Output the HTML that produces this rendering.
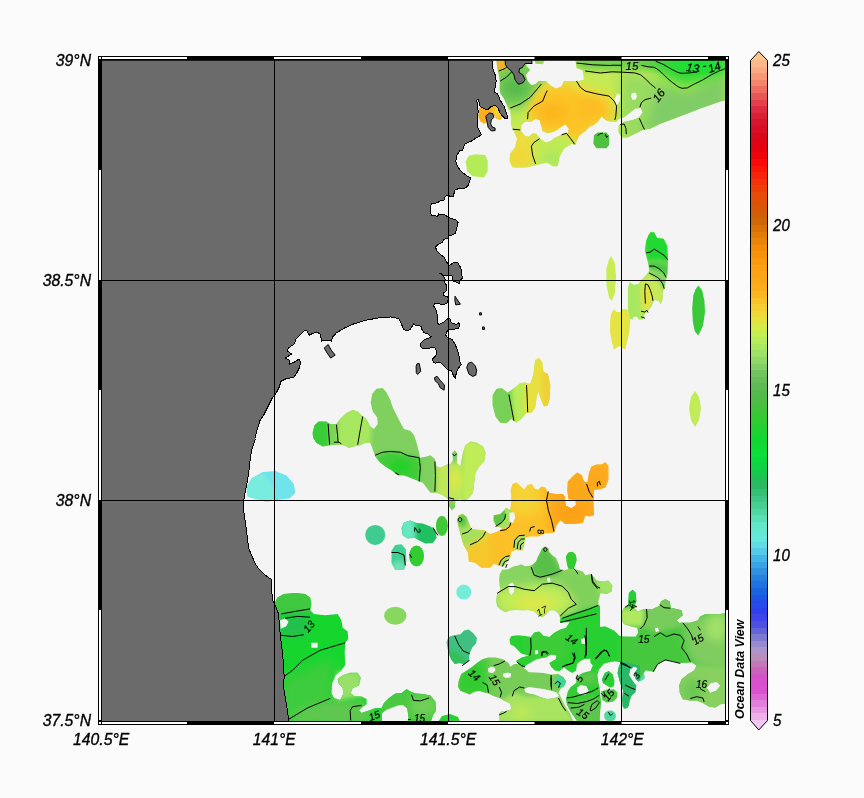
<!DOCTYPE html>
<html lang="en"><head><meta charset="utf-8"><title>Ocean Data View map</title>
<style>html,body{margin:0;padding:0;background:#fbfbfb}body{width:864px;height:798px;overflow:hidden}</style></head>
<body>
<svg width="864" height="798" viewBox="0 0 864 798" style="display:block">
<defs><clipPath id="mapclip"><rect x="100" y="58" width="627" height="665"/></clipPath><filter id="b2" x="-30%" y="-30%" width="160%" height="160%"><feGaussianBlur stdDeviation="2"/></filter><filter id="b4" x="-30%" y="-30%" width="160%" height="160%"><feGaussianBlur stdDeviation="4"/></filter><filter id="b6" x="-40%" y="-40%" width="180%" height="180%"><feGaussianBlur stdDeviation="6"/></filter><filter id="b9" x="-50%" y="-50%" width="200%" height="200%"><feGaussianBlur stdDeviation="9"/></filter><clipPath id="c1"><path d="M727.4 58.5 L727.4 99.9 L720.4 101.6 L710.4 104.9 L700.4 108.6 L690.3 112.4 L680.3 116.2 L670.3 119.9 L660.3 123.7 L650.2 128.7 L642.7 129.9 L635.2 133.7 L627.7 137.5 L621.4 137.5 L618.1 131.2 L618.9 124.9 L623.9 121.7 L632.7 119.9 L638.9 117.4 L642.7 112.4 L640.7 108.1 L635.2 108.6 L630.2 112.4 L623.9 117.4 L618.9 118.7 L616.6 121.7 L610.3 121.7 L605.3 119.9 L601.6 116.2 L597.8 121.7 L594.0 124.9 L590.3 126.2 L585.3 131.2 L579.0 135.7 L575.2 145.0 L571.5 143.7 L564.0 148.7 L559.7 156.3 L557.7 166.3 L552.7 166.3 L547.7 162.5 L536.4 165.0 L526.4 167.5 L512.6 167.5 L509.6 161.3 L510.1 153.7 L515.1 147.5 L517.1 138.7 L513.8 131.2 L511.3 126.2 L510.6 116.2 L510.1 108.6 L505.1 117.4 L495.0 106.1 L490.0 81.1 L495.0 58.5Z M526.4 58.5 L533.9 58.5 L535.6 63.5 L542.7 64.3 L545.7 58.5 L575.2 58.5 L576.5 68.0 L582.8 70.5 L583.8 79.8 L577.7 81.1 L564.0 81.1 L561.5 86.6 L556.2 88.8 L550.7 85.8 L545.7 81.1 L538.9 81.1 L535.6 84.1 L531.4 85.6 L527.6 81.1 L525.6 74.8 L530.1 69.8 L526.4 66.0Z M521.4 124.9 L525.1 121.7 L531.4 121.7 L535.6 118.7 L539.6 119.9 L541.4 126.2 L542.7 131.2 L547.7 133.2 L555.2 131.2 L560.2 127.4 L565.2 124.2 L569.0 128.7 L567.7 133.7 L561.5 134.9 L555.2 137.5 L550.2 141.2 L545.7 142.5 L540.2 138.7 L536.4 133.7 L532.6 133.2 L528.9 136.7 L524.6 135.7 L521.4 131.2Z M631.6 93.1 L635.4 92.6 L637.1 96.1 L635.9 99.6 L632.4 100.1 L630.9 96.6Z M617.3 93.6 L620.4 94.8 L619.8 101.1 L616.6 106.1 L614.1 103.6 L615.3 97.4Z" clip-rule="evenodd" shape-rendering="crispEdges"/></clipPath><clipPath id="c2"><path d="M594.0 134.9 L597.8 132.4 L606.6 132.4 L609.1 136.2 L609.1 145.0 L606.6 148.2 L596.5 148.2 L593.3 143.7Z" clip-rule="evenodd" shape-rendering="crispEdges"/></clipPath><clipPath id="c3"><path d="M465.7 161.3 L468.9 155.7 L475.2 154.2 L485.2 155.0 L487.7 161.3 L487.7 171.3 L484.0 177.6 L472.7 176.3 L467.2 171.3Z" clip-rule="evenodd" shape-rendering="crispEdges"/></clipPath><clipPath id="c4"><path d="M478.8 108.6 L480.7 106.1 L483.8 108.0 L487.6 109.6 L490.7 106.1 L495.1 104.9 L497.6 106.8 L500.1 112.4 L502.6 117.4 L500.1 119.9 L496.3 118.7 L493.8 114.9 L490.1 112.4 L485.7 116.2 L486.9 122.4 L483.8 123.7 L480.1 121.2 L478.2 116.2Z" clip-rule="evenodd" shape-rendering="crispEdges"/></clipPath><clipPath id="c5"><path d="M611.0 256.1 L614.8 263.2 L616.1 276.4 L614.8 293.3 L612.0 300.8 L609.1 298.0 L606.3 283.9 L606.3 268.9 L608.6 260.4Z" clip-rule="evenodd" shape-rendering="crispEdges"/></clipPath><clipPath id="c6"><path d="M650.5 232.2 L654.2 232.2 L657.1 237.9 L663.6 238.8 L667.4 246.3 L668.0 261.4 L667.4 274.5 L665.5 282.0 L664.6 288.6 L662.7 291.4 L662.7 298.9 L660.8 304.6 L658.9 300.8 L654.2 299.9 L651.4 306.5 L648.6 310.2 L644.8 314.0 L643.0 319.6 L638.6 319.6 L637.3 316.8 L633.6 316.8 L632.6 319.6 L629.2 318.7 L627.9 310.2 L627.9 287.7 L629.8 282.0 L633.6 284.8 L638.3 283.9 L642.0 279.2 L646.7 274.5 L649.2 270.8 L648.6 265.1 L646.7 257.6 L644.8 250.1 L646.2 240.7 L648.6 235.0Z" clip-rule="evenodd" shape-rendering="crispEdges"/></clipPath><clipPath id="c7"><path d="M611.0 314.0 L613.8 309.3 L616.7 312.1 L620.4 312.1 L622.3 309.3 L627.0 309.3 L629.2 314.0 L630.4 321.5 L629.2 332.8 L627.0 342.2 L625.1 349.7 L622.3 347.8 L619.5 345.9 L616.7 347.8 L613.8 349.7 L612.0 342.2 L610.1 332.8 L610.1 321.5Z" clip-rule="evenodd" shape-rendering="crispEdges"/></clipPath><clipPath id="c8"><path d="M698.4 285.4 L702.2 290.5 L704.4 300.8 L705.0 312.1 L703.1 325.3 L700.3 331.8 L698.0 335.6 L694.7 330.9 L692.8 321.5 L692.2 308.3 L693.3 295.2 L695.6 289.2Z" clip-rule="evenodd" shape-rendering="crispEdges"/></clipPath><clipPath id="c9"><path d="M695 391 L699 397 L701 408 L699 420 L695 427 L691 420 L689 408 L691 397Z" clip-rule="evenodd" shape-rendering="crispEdges"/></clipPath><clipPath id="c10"><path d="M492.6 395.2 L496.4 388.9 L501.4 388.1 L507.7 392.7 L512.7 388.9 L520.2 383.1 L525.2 382.6 L530.2 383.9 L533.2 375.1 L535.2 360.1 L539.0 358.1 L542.3 362.6 L543.3 371.4 L547.8 373.9 L550.3 385.1 L549.8 397.7 L547.8 405.2 L544.0 406.4 L540.3 397.7 L538.2 391.4 L536.5 397.7 L535.2 407.7 L531.5 412.7 L526.5 412.7 L521.5 419.0 L516.4 422.7 L511.4 419.0 L506.4 423.2 L500.2 422.7 L495.6 416.5 L492.6 405.2Z" clip-rule="evenodd" shape-rendering="crispEdges"/></clipPath><clipPath id="c11"><path d="M246.4 487.3 L251.8 478.2 L262.7 472.0 L275.5 470.9 L286.4 475.6 L293.6 483.6 L295.5 492.7 L290.0 498.2 L277.3 500.0 L266.4 501.8 L255.5 498.9 L247.5 496.4Z" clip-rule="evenodd" shape-rendering="crispEdges"/></clipPath><clipPath id="c12"><path d="M312.6 432.7 L314.6 425.1 L318.8 421.4 L326.3 421.4 L330.1 423.9 L336.4 423.9 L340.1 418.9 L346.4 413.1 L352.7 410.1 L357.7 411.4 L362.7 416.4 L366.4 418.9 L370.2 426.4 L374.0 428.9 L377.7 423.9 L377.2 417.6 L372.7 411.4 L370.7 402.6 L372.2 393.8 L376.5 388.8 L382.7 388.0 L386.5 392.6 L390.3 400.1 L392.8 407.6 L396.5 415.1 L400.3 422.6 L404.0 428.9 L410.3 430.7 L414.1 435.2 L416.6 442.7 L419.1 452.7 L420.3 457.7 L426.6 456.5 L430.4 455.2 L434.9 459.0 L436.6 466.5 L440.4 467.7 L446.6 464.7 L450.4 464.0 L452.9 460.2 L452.4 452.7 L454.9 450.2 L457.4 454.0 L456.7 462.7 L460.4 466.5 L462.9 452.7 L465.4 445.2 L470.5 441.4 L476.7 442.7 L483.0 446.4 L485.5 452.7 L484.2 461.5 L479.2 466.5 L475.5 472.8 L474.2 482.8 L473.0 492.8 L469.2 497.8 L464.2 501.6 L460.4 499.1 L455.4 500.3 L454.9 507.8 L451.7 510.4 L449.1 506.6 L448.4 499.1 L442.9 495.3 L436.6 492.8 L430.4 492.8 L426.6 487.8 L422.8 482.8 L416.6 480.3 L410.3 477.8 L404.0 475.3 L397.8 475.3 L391.5 470.3 L385.2 466.5 L379.0 461.5 L375.2 456.5 L372.2 447.7 L370.2 442.7 L365.2 442.7 L360.2 445.2 L353.9 446.4 L348.9 447.7 L343.9 445.2 L338.9 444.7 L330.1 445.2 L322.6 446.4 L316.3 442.7 L313.1 437.7Z" clip-rule="evenodd" shape-rendering="crispEdges"/></clipPath><clipPath id="c13"><path d="M385.2 534.9 L384.5 538.7 L382.3 542.0 L379.0 544.2 L375.2 544.9 L371.4 544.2 L368.1 542.0 L366.0 538.7 L365.2 534.9 L366.0 531.1 L368.1 527.8 L371.4 525.7 L375.2 524.9 L379.0 525.7 L382.3 527.8 L384.5 531.1Z" clip-rule="evenodd" shape-rendering="crispEdges"/></clipPath><clipPath id="c14"><path d="M401.5 527.9 L404.0 522.4 L410.3 520.4 L416.6 522.9 L422.8 523.4 L430.4 526.6 L435.4 530.4 L436.6 537.9 L432.9 542.9 L425.3 543.4 L419.1 540.4 L414.1 537.4 L407.8 538.4 L402.8 535.4Z" clip-rule="evenodd" shape-rendering="crispEdges"/></clipPath><clipPath id="c15"><path d="M447.9 525.9 L447.4 529.7 L446.1 533.0 L444.2 535.2 L441.9 535.9 L439.6 535.2 L437.6 533.0 L436.3 529.7 L435.9 525.9 L436.3 522.1 L437.6 518.8 L439.6 516.6 L441.9 515.9 L444.2 516.6 L446.1 518.8 L447.4 522.1Z" clip-rule="evenodd" shape-rendering="crispEdges"/></clipPath><clipPath id="c16"><path d="M391.5 550.5 L395.3 544.9 L401.5 544.2 L405.8 549.2 L406.5 560.5 L404.0 570.0 L395.3 570.0 L391.5 563.0Z" clip-rule="evenodd" shape-rendering="crispEdges"/></clipPath><clipPath id="c17"><path d="M424.1 556.0 L423.5 560.0 L421.9 563.4 L419.4 565.7 L416.6 566.5 L413.7 565.7 L411.2 563.4 L409.6 560.0 L409.0 556.0 L409.6 551.9 L411.2 548.5 L413.7 546.2 L416.6 545.4 L419.4 546.2 L421.9 548.5 L423.5 551.9Z" clip-rule="evenodd" shape-rendering="crispEdges"/></clipPath><clipPath id="c18"><path d="M605.4 462.1 L608.4 466.3 L608.4 480.1 L605.4 487.6 L600.4 488.9 L594.1 490.1 L593.4 502.7 L594.1 515.2 L589.1 516.4 L585.4 515.2 L582.9 522.7 L575.3 524.0 L565.3 524.0 L560.3 520.2 L556.5 525.2 L554.0 532.7 L545.3 533.2 L539.0 536.5 L530.2 536.5 L525.2 537.7 L524.0 545.3 L522.7 550.3 L515.2 550.3 L511.4 551.5 L510.2 557.8 L506.4 562.8 L503.9 566.6 L498.9 565.3 L493.9 564.1 L490.1 567.8 L481.4 567.8 L475.1 562.8 L468.8 561.6 L468.1 552.8 L463.8 545.3 L461.3 537.7 L458.8 527.7 L457.0 520.2 L458.8 515.2 L462.6 513.9 L466.3 516.4 L468.8 522.7 L471.3 529.0 L477.6 529.7 L483.9 530.2 L490.1 534.0 L497.6 531.5 L502.7 527.7 L496.4 526.5 L493.1 520.2 L493.9 515.2 L500.2 513.9 L506.4 507.7 L510.2 510.2 L511.4 500.2 L510.7 490.1 L512.7 483.9 L516.4 482.6 L520.7 486.4 L524.0 490.1 L527.7 485.1 L531.5 483.9 L535.2 488.9 L537.7 490.1 L541.5 486.4 L545.3 487.6 L547.8 492.6 L555.3 493.9 L562.8 493.9 L564.8 496.4 L565.8 505.7 L571.6 508.2 L576.1 504.7 L575.3 500.2 L568.3 498.9 L567.3 490.1 L567.8 481.4 L572.8 476.3 L577.3 472.6 L581.6 475.1 L584.1 481.4 L587.4 482.6 L589.1 472.6 L591.6 466.3 L596.6 464.6 L601.7 464.6Z" clip-rule="evenodd" shape-rendering="crispEdges"/></clipPath><clipPath id="c19"><path d="M471.3 592.1 L470.8 595.0 L469.1 597.4 L466.7 599.1 L463.8 599.6 L460.9 599.1 L458.5 597.4 L456.9 595.0 L456.3 592.1 L456.9 589.3 L458.5 586.8 L460.9 585.2 L463.8 584.6 L466.7 585.2 L469.1 586.8 L470.8 589.3Z" clip-rule="evenodd" shape-rendering="crispEdges"/></clipPath><clipPath id="c20"><path d="M542.3 548.1 L545.3 546.5 L548.3 548.1 L549.3 552.2 L552.3 555.2 L556.3 558.2 L558.7 564.2 L559.9 569.2 L564.3 570.2 L568.3 569.2 L566.7 562.2 L565.9 556.2 L568.3 552.6 L572.3 551.8 L575.9 554.6 L576.7 560.2 L574.7 566.2 L573.9 569.2 L578.3 570.2 L582.4 571.2 L585.4 575.2 L591.6 574.0 L596.6 580.4 L602.8 581.6 L608.4 580.4 L612.4 585.4 L611.6 591.7 L606.6 594.1 L600.4 592.9 L598.4 600.5 L598.0 612.9 L590.4 615.5 L582.8 617.9 L572.7 620.5 L560.3 622.9 L560.3 618.3 L558.3 613.3 L554.3 610.3 L549.3 610.3 L546.3 614.3 L542.3 617.3 L538.2 615.3 L534.2 611.3 L528.2 609.9 L522.2 610.3 L516.2 609.9 L510.2 610.3 L505.2 612.3 L500.2 609.3 L497.1 606.3 L496.1 600.3 L497.1 594.3 L500.6 590.3 L499.7 586.2 L499.1 580.2 L499.7 574.2 L502.2 569.8 L508.2 569.2 L513.2 566.6 L517.2 565.8 L521.2 564.2 L525.2 566.2 L530.2 565.8 L533.2 564.2 L536.2 561.2 L538.2 556.2 L540.3 552.2Z M508.6 584.2 L512.6 582.6 L514.6 586.2 L514.2 592.3 L511.2 595.3 L508.6 592.3Z M547.3 577.8 L549.9 577.4 L550.7 581.2 L548.3 582.6 L547.1 580.2Z" clip-rule="evenodd" shape-rendering="crispEdges"/></clipPath><clipPath id="c21"><path d="M509.4 639.8 L511.3 636.1 L517.8 635.2 L525.2 636.1 L530.7 637.0 L534.4 632.4 L539.1 631.5 L543.7 636.1 L549.3 637.0 L554.8 632.4 L560.4 629.6 L565.9 627.8 L569.6 622.2 L560.4 622.2 L560.4 618.5 L569.6 614.8 L580.7 611.1 L600.0 605.6 L600.0 627.8 L600.0 655.6 L591.9 657.4 L584.4 659.3 L580.7 661.1 L577.0 663.9 L576.1 670.4 L572.4 673.1 L567.8 670.4 L564.1 667.6 L559.4 671.3 L554.8 670.4 L551.1 666.7 L549.3 663.0 L555.7 659.3 L556.7 655.6 L551.1 654.6 L545.6 657.4 L540.9 658.3 L536.3 659.3 L531.7 662.0 L527.0 664.8 L523.3 667.6 L518.7 663.9 L515.9 661.1 L521.5 657.4 L528.9 655.6 L521.5 653.7 L517.8 650.0 L514.1 646.3 L510.4 644.4Z M534.4 650.4 L537.8 650.0 L538.5 653.7 L535.4 654.8Z M581.1 638.5 L585.4 638.0 L586.7 642.2 L583.5 644.8 L580.7 642.6Z" clip-rule="evenodd" shape-rendering="crispEdges"/></clipPath><clipPath id="c22"><path d="M590.9 621.1 L590.0 627.6 L595.6 626.7 L604.8 626.7 L614.1 630.4 L621.5 637.8 L621.5 662.8 L614.1 660.9 L603.9 663.7 L599.3 669.3 L595.6 672.0 L590.0 672.0 L592.8 665.6 L590.4 662.8 L589.6 643.3Z" clip-rule="evenodd" shape-rendering="crispEdges"/></clipPath><clipPath id="c23"><path d="M565.9 698.9 L567.8 691.5 L570.6 686.9 L576.1 683.1 L577.0 676.7 L582.6 673.0 L590.0 671.1 L595.6 672.0 L599.3 669.3 L597.4 674.8 L598.3 682.2 L599.6 687.8 L600.2 695.2 L601.1 702.6 L600.2 710.0 L599.6 721.1 L577.0 721.1 L573.3 715.6 L569.6 710.0 L566.9 704.4Z M577.0 687.8 L580.7 685.0 L586.3 685.9 L588.5 690.6 L585.4 694.8 L579.8 694.3 L577.0 691.5Z" clip-rule="evenodd" shape-rendering="crispEdges"/></clipPath><clipPath id="c24"><path d="M602.0 679.4 L604.8 673.0 L608.9 671.1 L612.6 673.9 L614.4 680.4 L614.1 685.9 L610.4 687.8 L605.7 685.0 L603.0 683.1Z" clip-rule="evenodd" shape-rendering="crispEdges"/></clipPath><clipPath id="c25"><path d="M601.1 691.5 L606.7 689.6 L614.1 689.3 L617.4 692.4 L616.9 698.0 L613.1 701.7 L606.7 702.6 L602.0 699.8Z" clip-rule="evenodd" shape-rendering="crispEdges"/></clipPath><clipPath id="c26"><path d="M615.9 715.9 L615.5 718.1 L614.2 719.9 L612.3 721.1 L610.0 721.5 L607.7 721.1 L605.8 719.9 L604.5 718.1 L604.1 715.9 L604.5 713.8 L605.8 712.0 L607.7 710.8 L610.0 710.4 L612.3 710.8 L614.2 712.0 L615.5 713.8Z" clip-rule="evenodd" shape-rendering="crispEdges"/></clipPath><clipPath id="c27"><path d="M618.7 667.4 L621.5 664.6 L625.2 669.3 L628.9 674.8 L632.6 680.4 L636.3 685.9 L635.4 692.4 L631.7 695.2 L629.8 700.7 L628.9 706.3 L625.2 708.5 L622.4 706.3 L622.4 698.9 L623.7 691.5 L622.4 684.1 L620.0 676.7Z" clip-rule="evenodd" shape-rendering="crispEdges"/></clipPath><clipPath id="c28"><path d="M644.8 676.7 L644.4 678.4 L643.4 679.8 L641.8 680.8 L640.0 681.1 L638.2 680.8 L636.6 679.8 L635.6 678.4 L635.2 676.7 L635.6 675.0 L636.6 673.5 L638.2 672.6 L640.0 672.2 L641.8 672.6 L643.4 673.5 L644.4 675.0Z" clip-rule="evenodd" shape-rendering="crispEdges"/></clipPath><clipPath id="c29"><path d="M458.5 681.5 L461.3 674.1 L466.9 670.4 L472.4 666.7 L477.0 663.0 L482.6 659.3 L488.1 657.4 L495.6 657.4 L503.0 659.3 L508.5 663.0 L510.4 666.7 L514.1 663.9 L518.7 663.9 L523.3 667.6 L528.9 672.2 L536.3 672.6 L543.7 673.1 L551.1 674.4 L558.5 674.1 L563.1 676.9 L566.3 681.5 L564.4 686.1 L560.4 688.9 L558.5 692.6 L562.2 700.0 L565.9 707.4 L569.6 713.0 L573.3 721.3 L499.3 721.3 L499.3 713.0 L502.0 711.1 L506.7 711.1 L511.3 709.3 L510.4 703.7 L504.8 700.9 L499.3 698.1 L493.7 696.3 L488.5 693.5 L484.4 692.6 L478.9 690.7 L474.3 691.7 L469.6 694.4 L465.0 692.6 L460.4 690.7 L458.1 687.0Z M487.8 668.5 L490.9 666.7 L494.6 667.6 L495.6 670.4 L492.8 673.1 L488.5 672.6Z M503.0 673.7 L507.6 672.6 L511.3 673.7 L510.4 677.4 L505.7 678.1 L503.0 676.3Z M524.3 688.9 L528.9 687.0 L536.3 688.0 L543.7 688.9 L551.1 690.7 L556.7 692.6 L559.4 696.3 L554.8 698.1 L547.4 699.1 L540.9 697.2 L534.4 694.4 L528.9 693.5 L525.2 692.2Z" clip-rule="evenodd" shape-rendering="crispEdges"/></clipPath><clipPath id="c30"><path d="M446.5 642.6 L448.3 637.0 L453.9 635.2 L460.4 634.3 L464.1 630.6 L468.7 629.6 L473.3 633.3 L477.0 638.0 L476.1 643.5 L472.4 647.2 L469.6 653.7 L468.7 661.1 L464.1 663.9 L459.4 663.0 L454.8 663.9 L451.1 659.3 L448.3 651.9Z" clip-rule="evenodd" shape-rendering="crispEdges"/></clipPath><clipPath id="c31"><path d="M438 722 L442 716 L450 714 L458 717 L461 724 L438 724Z" clip-rule="evenodd" shape-rendering="crispEdges"/></clipPath><clipPath id="c32"><path d="M621.4 612.7 L623.9 607.7 L628.2 605.7 L628.9 592.7 L632.7 589.7 L635.7 592.7 L636.4 601.4 L633.9 607.7 L637.7 611.5 L643.9 609.0 L652.7 609.0 L659.7 605.7 L660.8 601.4 L665.3 598.9 L669.8 601.4 L670.8 607.7 L676.6 609.0 L681.6 610.2 L682.8 615.2 L676.6 620.3 L679.1 622.8 L690.3 622.8 L697.9 620.3 L699.9 616.5 L705.4 614.0 L720.4 614.0 L728.0 612.7 L728.0 703.0 L720.4 704.3 L715.4 707.5 L709.2 706.8 L702.9 703.0 L696.6 700.5 L690.3 700.5 L682.8 699.2 L679.8 693.0 L679.1 685.5 L681.6 679.2 L687.8 674.2 L694.1 670.4 L696.6 665.4 L691.6 662.4 L680.3 662.9 L670.3 660.4 L662.8 660.4 L656.5 665.4 L654.0 671.7 L645.7 670.4 L641.4 676.7 L638.9 681.7 L635.7 679.2 L634.7 672.9 L637.7 667.9 L633.9 666.6 L630.2 669.2 L628.9 675.4 L631.4 681.7 L636.4 685.5 L633.9 693.0 L628.9 698.0 L627.6 708.0 L623.9 708.5 L622.1 700.5 L623.1 690.5 L620.1 682.9 L617.6 672.9 L618.9 666.6 L621.4 660.4 L612.6 661.6 L605.1 660.4 L595.0 657.9 L585.0 659.1 L580.0 657.9 L580.0 627.8 L587.5 626.5 L597.6 627.8 L605.1 626.5 L612.6 630.3 L617.6 635.3 L621.4 636.6 L635.7 636.8 L638.2 632.8 L637.2 627.8 L630.2 626.3 L623.9 624.0 L621.4 620.3Z M654.7 628.3 L658.2 627.3 L659.2 631.3 L655.7 632.3Z M706.6 688.0 L710.4 682.9 L716.7 681.7 L720.4 685.5 L716.7 690.5 L710.4 693.0Z" clip-rule="evenodd" shape-rendering="crispEdges"/></clipPath><clipPath id="c33"><path d="M275.0 602.7 L277.5 597.6 L283.8 593.9 L295.1 593.1 L305.1 593.9 L310.1 597.6 L311.4 603.9 L310.1 610.2 L313.9 613.9 L325.1 615.2 L337.7 613.9 L341.4 620.2 L342.7 627.7 L347.7 631.5 L348.2 639.0 L345.2 642.8 L344.7 652.8 L345.2 665.3 L341.4 670.3 L335.7 675.3 L332.2 682.9 L331.4 692.9 L333.9 697.9 L340.2 699.9 L343.2 694.1 L342.7 687.9 L338.9 684.1 L337.7 679.1 L342.7 675.3 L350.2 672.8 L357.7 672.8 L360.7 677.8 L359.0 685.4 L352.7 687.9 L350.7 692.9 L354.0 695.9 L361.5 696.6 L366.5 699.1 L366.5 704.2 L362.7 706.7 L359.0 710.4 L361.5 712.9 L369.0 710.4 L375.3 707.9 L381.5 707.9 L384.0 702.9 L389.0 697.9 L395.3 693.4 L401.6 692.9 L406.6 689.1 L410.4 691.6 L415.4 693.4 L422.9 694.1 L430.4 695.4 L435.4 701.7 L435.9 710.4 L432.9 715.4 L430.4 723.0 L287.5 723.0 L275.0 723.0Z M280.0 620.2 L285.0 618.2 L288.8 621.5 L286.3 626.5 L280.5 629.0Z M311.4 642.8 L317.6 642.8 L317.6 647.8 L311.4 647.8Z M382.0 712.9 L386.8 709.4 L397.8 705.2 L403.3 704.9 L407.3 708.4 L408.6 717.7 L407.1 723.0 L382.0 723.0Z" clip-rule="evenodd" shape-rendering="crispEdges"/></clipPath><clipPath id="c34"><path d="M406.6 615.7 L405.7 619.1 L403.3 622.1 L399.6 624.0 L395.3 624.7 L391.0 624.0 L387.3 622.1 L384.9 619.1 L384.0 615.7 L384.9 612.2 L387.3 609.3 L391.0 607.4 L395.3 606.7 L399.6 607.4 L403.3 609.3 L405.7 612.2Z" clip-rule="evenodd" shape-rendering="crispEdges"/></clipPath></defs>
<rect width="864" height="798" fill="#fbfbfb"/>
<rect x="100" y="58" width="627" height="665" fill="#f4f4f4"/>
<g clip-path="url(#mapclip)">
<g clip-path="url(#c1)"><rect x="488.0" y="56.5" width="241.39999999999998" height="113.0" fill="#c4ea54"/><path d="M495.0 58.5 L545.2 58.5 L545.2 86.1 L540.2 98.6 L530.1 106.1 L510.1 109.9 L495.0 106.1Z" fill="#74cc58" filter="url(#b6)"/><ellipse cx="515.1" cy="87.3" rx="13.8" ry="10.0" fill="#54b848" filter="url(#b6)"/><ellipse cx="501.3" cy="64.8" rx="6.3" ry="5.5" fill="#fcb020" filter="url(#b2)"/><path d="M540.2 84.8 L562.7 78.6 L587.8 86.1 L615.3 96.1 L617.8 119.9 L600.3 119.9 L585.3 132.4 L575.2 142.5 L562.7 134.9 L540.2 132.4 L528.9 121.2 L528.9 106.1Z" fill="#ecdc3c" filter="url(#b4)"/><path d="M543.9 89.8 L562.7 84.8 L580.3 93.6 L606.6 102.4 L611.6 118.7 L600.3 118.7 L585.3 131.2 L575.2 141.2 L562.7 133.7 L540.2 131.2 L531.4 121.2 L531.4 106.1Z" fill="#fcc428" filter="url(#b4)"/><ellipse cx="552.7" cy="112.4" rx="15.0" ry="8.8" fill="#fcb41e" filter="url(#b6)"/><ellipse cx="590.3" cy="108.6" rx="15.0" ry="10.0" fill="#fcbc24" filter="url(#b6)"/><path d="M509.6 131.2 L533.9 131.2 L533.9 168.8 L509.6 168.8Z" fill="#eedc3c" filter="url(#b4)"/><ellipse cx="517.6" cy="156.3" rx="7.0" ry="9.5" fill="#f2d638" filter="url(#b4)"/><path d="M537.6 141.2 L562.7 133.7 L576.5 143.7 L562.7 168.8 L537.6 166.3Z" fill="#c0ea54" filter="url(#b4)"/><ellipse cx="552.7" cy="158.8" rx="8.8" ry="7.5" fill="#a8e860" filter="url(#b4)"/><path d="M576.5 58.5 L680.5 58.5 L680.5 68.5 L630.4 69.8 L576.5 68.0Z" fill="#5cc84c" filter="url(#b4)"/><path d="M620.4 71.0 L660.5 78.6 L680.5 93.6 L680.5 141.2 L620.4 141.2Z" fill="#98dc60" filter="url(#b6)"/><path d="M660.3 86.1 L685.3 91.1 L727.9 71.0 L727.9 121.2 L642.7 131.2Z" fill="#80cc66" filter="url(#b6)"/><path d="M642.7 58.5 L727.9 58.5 L727.9 73.5 L705.4 81.1 L685.3 86.1 L670.3 81.1 L655.2 68.5Z" fill="#30d838" filter="url(#b6)"/><path d="M667.8 58.5 L727.9 58.5 L727.9 66.0 L700.4 71.0 L680.3 68.5Z" fill="#10e030" filter="url(#b4)"/></g>
<g clip-path="url(#c2)"><rect x="591.3" y="130.4" width="19.800000000000068" height="19.799999999999983" fill="#50c040"/></g>
<g clip-path="url(#c3)"><rect x="463.7" y="152.2" width="26.0" height="27.400000000000006" fill="#b4ec58"/></g>
<g clip-path="url(#c4)"><rect x="476.2" y="102.9" width="28.400000000000034" height="22.799999999999997" fill="#fcb020"/><ellipse cx="497.6" cy="112.4" rx="4.4" ry="6.3" fill="#f0d838" filter="url(#b2)"/></g>
<g clip-path="url(#c5)"><rect x="604.3" y="254.10000000000002" width="13.800000000000068" height="48.69999999999999" fill="#c8ec54"/></g>
<g clip-path="url(#c6)"><rect x="625.9" y="230.2" width="44.10000000000002" height="91.40000000000003" fill="#a8e860"/><path d="M642.0 229.4 L670.2 229.4 L670.2 264.2 L658.9 260.4 L645.8 262.3Z" fill="#20d830" filter="url(#b2)"/><path d="M645.8 262.3 L658.9 260.4 L670.2 265.1 L670.2 276.4 L662.7 274.5 L655.2 270.8 L647.7 269.8Z" fill="#4cc848" filter="url(#b2)"/><path d="M647.7 270.8 L655.2 271.7 L662.7 275.5 L669.3 280.2 L668.3 289.5 L662.7 290.5 L658.9 282.0 L653.3 276.4Z" fill="#80d068" filter="url(#b2)"/><path d="M640.2 280.2 L647.7 274.5 L658.9 283.0 L663.6 291.4 L663.6 306.5 L655.2 300.8 L647.7 314.0 L640.2 314.0Z" fill="#c8e858" filter="url(#b2)"/><ellipse cx="646.7" cy="297.1" rx="4.1" ry="12.2" fill="#e8e040" filter="url(#b2)"/></g>
<g clip-path="url(#c7)"><rect x="608.1" y="307.3" width="24.299999999999955" height="44.39999999999998" fill="#e4e444"/></g>
<g clip-path="url(#c8)"><rect x="690.2" y="283.4" width="16.799999999999955" height="54.200000000000045" fill="#38c838"/></g>
<g clip-path="url(#c9)"><rect x="687" y="389" width="16" height="40" fill="#c0ec58"/></g>
<g clip-path="url(#c10)"><rect x="490.6" y="356.1" width="61.69999999999993" height="69.09999999999997" fill="#b8ec58"/><path d="M490.1 385.1 L511.4 385.1 L513.9 425.2 L490.1 425.2Z" fill="#78d058" filter="url(#b2)"/><path d="M524.0 380.1 L535.2 355.1 L552.8 355.1 L552.8 415.2 L525.2 415.2Z" fill="#e8e040" filter="url(#b2)"/><path d="M541.5 370.1 L552.8 370.1 L552.8 407.7 L541.5 407.7Z" fill="#f0d038" filter="url(#b2)"/></g>
<g clip-path="url(#c11)"><rect x="244.4" y="468.9" width="53.099999999999994" height="34.900000000000034" fill="#70e4ec"/><path d="M240.9 480.0 L264.5 474.5 L275.5 490.9 L275.5 503.6 L240.9 503.6Z" fill="#78ecde" filter="url(#b1)"/></g>
<g clip-path="url(#c12)"><rect x="310.6" y="386.0" width="176.89999999999998" height="126.39999999999998" fill="#80d060"/><path d="M310.1 418.9 L328.1 418.9 L329.6 447.7 L310.1 447.7Z" fill="#38cc38" filter="url(#b2)"/><path d="M329.1 421.4 L338.1 421.4 L338.6 447.7 L330.1 447.7Z" fill="#7cd458" filter="url(#b2)"/><path d="M338.1 407.6 L365.2 407.6 L371.5 426.4 L370.2 450.2 L338.1 450.2Z" fill="#a8e860" filter="url(#b2)"/><path d="M375.2 456.5 L390.3 451.5 L407.8 455.2 L419.8 458.2 L419.8 482.8 L395.3 477.8 L380.2 465.2Z" fill="#40cc38" filter="url(#b2)"/><ellipse cx="400.3" cy="466.5" rx="10.0" ry="7.5" fill="#28d02c" filter="url(#b2)"/><path d="M436.6 462.7 L462.9 462.7 L462.9 502.8 L436.6 497.8Z" fill="#c0e858" filter="url(#b2)"/><ellipse cx="456.7" cy="480.3" rx="7.5" ry="10.0" fill="#d4e84c" filter="url(#b2)"/><path d="M461.7 440.2 L488.0 440.2 L488.0 502.8 L461.7 502.8Z" fill="#c0ec58" filter="url(#b2)"/></g>
<g clip-path="url(#c13)"><rect x="363.2" y="522.9" width="24.0" height="24.0" fill="#40cc90"/></g>
<g clip-path="url(#c14)"><rect x="399.5" y="518.4" width="39.10000000000002" height="27.0" fill="#20c060"/><path d="M400.3 517.9 L414.8 517.9 L415.8 540.4 L400.3 540.4Z" fill="#68e8c0" filter="url(#b2)"/></g>
<g clip-path="url(#c15)"><rect x="433.9" y="513.9" width="16.0" height="24.0" fill="#40c838"/></g>
<g clip-path="url(#c16)"><rect x="389.5" y="542.2" width="19.0" height="29.799999999999955" fill="#40d090"/><ellipse cx="399.0" cy="568.0" rx="7.5" ry="7.5" fill="#70e0b8" filter="url(#b2)"/></g>
<g clip-path="url(#c17)"><rect x="407.0" y="543.4" width="19.100000000000023" height="25.100000000000023" fill="#30cc30"/></g>
<g clip-path="url(#c18)"><rect x="455.0" y="460.1" width="155.39999999999998" height="109.69999999999993" fill="#fcc028"/><path d="M546.5 490.1 L570.3 470.1 L610.4 460.1 L610.4 525.2 L550.3 535.2Z" fill="#fca81a" filter="url(#b4)"/><ellipse cx="570.3" cy="512.7" rx="12.5" ry="10.0" fill="#fca014" filter="url(#b4)"/><path d="M507.7 480.1 L537.7 480.1 L540.3 512.7 L507.7 515.2Z" fill="#f4d434" filter="url(#b6)"/><path d="M455.0 512.7 L468.8 512.7 L472.6 527.7 L485.1 530.2 L488.9 536.5 L480.1 546.5 L471.3 554.0 L461.3 551.5 L458.0 535.2Z" fill="#ecdc3c" filter="url(#b2)"/><path d="M455.0 512.7 L468.8 512.7 L472.6 527.7 L485.1 530.2 L486.4 535.2 L477.6 542.8 L470.1 549.0 L462.6 547.8 L458.0 535.2Z" fill="#a4e060" filter="url(#b2)"/><ellipse cx="462.1" cy="520.7" rx="4.5" ry="6.3" fill="#58c048" filter="url(#b2)"/><path d="M465.1 547.8 L487.6 536.5 L493.9 545.3 L490.1 570.3 L467.6 565.3Z" fill="#f4c82c" filter="url(#b4)"/><path d="M491.4 513.9 L501.4 512.7 L507.2 506.4 L512.7 511.4 L511.4 522.7 L505.7 528.2 L495.6 527.7 L492.1 521.5Z" fill="#a8e060" filter="url(#b1)"/><path d="M493.1 515.2 L500.2 514.2 L504.7 510.2 L505.7 517.7 L501.4 524.0 L495.6 525.7Z" fill="#60c44c" filter="url(#b1)"/><path d="M513.2 548.3 L514.2 540.3 L518.9 535.2 L525.2 534.7 L525.2 550.8Z" fill="#a8e060" filter="url(#b1)"/><path d="M498.1 565.3 L501.4 559.3 L505.7 556.0 L510.7 555.8 L507.2 564.1 L503.9 567.3Z" fill="#a8e060" filter="url(#b1)"/></g>
<g clip-path="url(#c19)"><rect x="454.3" y="582.6" width="19.0" height="19.0" fill="#74ecd8"/></g>
<g clip-path="url(#c20)"><rect x="494.1" y="544.5" width="120.29999999999995" height="80.39999999999998" fill="#88d460"/><path d="M531.2 566.2 L540.3 550.2 L545.3 545.1 L552.3 555.2 L560.3 569.2 L561.3 574.2 L548.3 577.2 L536.2 578.2Z" fill="#58c048" filter="url(#b2)"/><path d="M560.3 570.2 L586.4 574.2 L600.4 582.2 L600.4 602.3 L580.4 610.3 L568.3 602.3 L564.3 584.2Z" fill="#80d05c" filter="url(#b4)"/><path d="M495.1 590.3 L514.2 586.6 L540.3 584.2 L560.3 586.2 L572.3 596.3 L574.3 605.3 L560.3 615.3 L540.3 618.3 L498.1 612.3Z" fill="#c0ec58" filter="url(#b4)"/><ellipse cx="534.2" cy="603.3" rx="20.1" ry="8.0" fill="#dce848" filter="url(#b4)"/><ellipse cx="571.1" cy="560.2" rx="5.6" ry="9.0" fill="#30cc30" filter="url(#b1)"/><path d="M596.4 579.2 L614.4 579.2 L614.4 595.3 L600.4 594.3Z" fill="#a0e468" filter="url(#b2)"/><path d="M559.3 619.3 L576.3 612.7 L599.4 604.7 L599.4 616.3 L560.3 625.3Z" fill="#28d030" filter="url(#b2)"/></g>
<g clip-path="url(#c21)"><rect x="507.4" y="603.6" width="94.60000000000002" height="71.5" fill="#28d030"/><path d="M528.9 631.5 L565.9 627.8 L569.6 661.1 L528.9 663.0Z" fill="#3ccc38" filter="url(#b4)"/></g>
<g clip-path="url(#c22)"><rect x="587.6" y="619.1" width="35.89999999999998" height="54.89999999999998" fill="#28d030"/></g>
<g clip-path="url(#c23)"><rect x="563.9" y="667.3" width="39.200000000000045" height="55.80000000000007" fill="#34cc34"/><path d="M565.9 702.6 L601.1 697.0 L601.1 723.0 L575.2 723.0Z" fill="#5cc84c" filter="url(#b2)"/><path d="M576.1 674.8 L595.6 671.1 L597.4 684.1 L577.0 684.1Z" fill="#58c848" filter="url(#b2)"/></g>
<g clip-path="url(#c24)"><rect x="600.0" y="669.1" width="16.399999999999977" height="20.699999999999932" fill="#28d030"/><path d="M601.1 671.1 L609.4 671.1 L603.9 684.1 L601.1 684.1Z" fill="#28c050" filter="url(#b1)"/></g>
<g clip-path="url(#c25)"><rect x="599.1" y="687.3" width="20.299999999999955" height="17.300000000000068" fill="#50c848"/></g>
<g clip-path="url(#c26)"><rect x="602.1" y="708.4" width="15.799999999999955" height="15.100000000000023" fill="#50d8a0"/></g>
<g clip-path="url(#c27)"><rect x="616.7" y="662.6" width="21.59999999999991" height="47.89999999999998" fill="#28b868"/></g>
<g clip-path="url(#c28)"><rect x="633.2" y="670.2" width="13.599999999999909" height="12.899999999999977" fill="#50dcb0"/></g>
<g clip-path="url(#c29)"><rect x="456.1" y="655.4" width="119.19999999999993" height="67.89999999999998" fill="#78cc58"/><path d="M456.7 661.1 L486.3 655.6 L488.5 696.3 L456.7 696.3Z" fill="#30cc30" filter="url(#b4)"/><path d="M497.4 703.7 L514.1 692.6 L525.2 696.3 L558.5 696.3 L575.2 722.2 L497.4 722.2Z" fill="#a8e460" filter="url(#b2)"/><ellipse cx="521.5" cy="713.0" rx="9.3" ry="7.4" fill="#c0e858" filter="url(#b4)"/><ellipse cx="560.4" cy="681.5" rx="5.6" ry="5.6" fill="#40d890" filter="url(#b1)"/></g>
<g clip-path="url(#c30)"><rect x="444.5" y="627.6" width="34.5" height="38.299999999999955" fill="#40c080"/><path d="M445.6 648.1 L462.2 655.6 L469.6 666.7 L445.6 666.7Z" fill="#30c058" filter="url(#b2)"/></g>
<g clip-path="url(#c31)"><rect x="436" y="712" width="27" height="14" fill="#28d030"/></g>
<g clip-path="url(#c32)"><rect x="578.0" y="587.7" width="152.0" height="122.79999999999995" fill="#48c840"/><path d="M580.0 625.3 L621.4 625.3 L621.4 662.9 L580.0 662.9Z" fill="#28d030" filter="url(#b2)"/><path d="M621.4 636.6 L655.2 632.8 L685.3 640.3 L690.3 662.9 L655.2 662.9 L621.4 662.9Z" fill="#44c83c" filter="url(#b2)"/><path d="M626.4 588.9 L637.7 588.9 L637.7 607.7 L626.4 607.7Z" fill="#28d038" filter="url(#b1)"/><path d="M620.1 608.2 L645.7 608.2 L644.7 626.5 L620.1 626.5Z" fill="#b0e860" filter="url(#b2)"/><path d="M645.7 597.7 L684.1 597.7 L691.6 624.0 L655.2 632.8 L643.9 627.8Z" fill="#78cc5c" filter="url(#b2)"/><path d="M684.1 622.8 L700.4 615.2 L730.5 611.5 L730.5 670.4 L695.4 665.4 L686.6 650.3Z" fill="#80cc60" filter="url(#b4)"/><ellipse cx="716.7" cy="627.8" rx="11.3" ry="13.8" fill="#a0e068" filter="url(#b4)"/><path d="M677.8 665.4 L730.5 665.4 L730.5 710.5 L677.8 710.5Z" fill="#88d060" filter="url(#b2)"/><ellipse cx="692.9" cy="690.5" rx="10.0" ry="11.3" fill="#6cc854" filter="url(#b4)"/><path d="M616.4 660.4 L640.2 665.4 L640.2 710.5 L616.4 710.5Z" fill="#28b868" filter="url(#b1)"/></g>
<g clip-path="url(#c33)"><rect x="273.0" y="591.1" width="164.89999999999998" height="133.89999999999998" fill="#16d62e"/><path d="M272.5 591.4 L312.6 591.4 L312.6 613.2 L272.5 615.2Z" fill="#40c840" filter="url(#b1)"/><path d="M280.0 615.2 L307.6 615.2 L305.1 636.5 L280.0 636.5Z" fill="#20c050" filter="url(#b4)"/><path d="M280.0 680.4 L332.7 657.8 L332.7 700.4 L370.3 700.4 L370.3 723.0 L280.0 723.0Z" fill="#3ccc3c" filter="url(#b6)"/><path d="M292.6 712.9 L330.2 700.4 L370.3 702.9 L370.3 723.0 L292.6 723.0Z" fill="#60c850" filter="url(#b4)"/><path d="M336.4 671.6 L361.5 671.6 L361.5 696.6 L336.4 700.4Z" fill="#98e068" filter="url(#b2)"/><path d="M380.3 690.4 L437.9 690.4 L437.9 723.0 L380.3 723.0Z" fill="#48c840" filter="url(#b2)"/><path d="M410.4 696.6 L436.7 696.6 L436.7 715.4 L410.4 715.4Z" fill="#70d058" filter="url(#b4)"/></g>
<g clip-path="url(#c34)"><rect x="382.0" y="604.7" width="26.600000000000023" height="22.0" fill="#88d860"/></g>
<path d="M509.2 512.7 L514.2 512.2 L515.2 517.7 L513.2 522.7 L509.7 522.2Z" fill="#f4f4f4"/><path d="M581.1 639.6 L584.4 637.8 L586.7 640.6 L585.4 644.3 L581.7 643.7Z" fill="#f4f4f4"/><path d="M492.0 59.8 L492.8 68.5 L495.1 74.8 L496.3 81.1 L495.1 86.1 L494.8 92.3 L497.6 93.6 L500.1 99.9 L503.9 106.1 L507.0 114.9 L509.5 114.9 L508.2 108.6 L503.9 98.6 L500.4 93.6 L499.5 88.6 L499.8 81.1 L498.6 74.8 L497.3 68.5 L496.1 59.8Z" fill="#f4f4f4"/>
<path d="M646.2 252.9 L650.5 252.0 L654.2 249.1 L658.9 252.0 L664.6 255.7 L667.4 259.5" fill="none" stroke="#000" stroke-width="1" stroke-linejoin="round"/>
<path d="M649.2 266.1 L654.2 266.1 L658.9 268.5 L663.6 272.6 L666.1 277.3" fill="none" stroke="#000" stroke-width="1" stroke-linejoin="round"/>
<path d="M649.2 273.0 L654.2 275.5 L658.9 278.3 L662.7 283.9 L664.2 288.6" fill="none" stroke="#000" stroke-width="1" stroke-linejoin="round"/>
<path d="M645.4 303.6 L644.8 291.4 L645.4 283.9 L648.0 284.8 L650.5 290.5 L652.4 297.1 L652.9 300.8" fill="none" stroke="#000" stroke-width="1" stroke-linejoin="round"/>
<path d="M641.1 311.2 L644.8 312.1 L646.7 310.2 L648.0 312.5" fill="none" stroke="#000" stroke-width="1" stroke-linejoin="round"/>
<path d="M641.1 316.8 L644.8 318.1" fill="none" stroke="#000" stroke-width="1" stroke-linejoin="round"/>
<path d="M508.9 394.7 L511.4 407.7 L513.9 420.7" fill="none" stroke="#000" stroke-width="1" stroke-linejoin="round"/>
<path d="M526.5 385.1 L527.2 397.7 L527.7 412.2" fill="none" stroke="#000" stroke-width="1" stroke-linejoin="round"/>
<path d="M328.1 423.9 L328.8 433.9 L329.6 444.7" fill="none" stroke="#000" stroke-width="1" stroke-linejoin="round"/>
<path d="M336.4 424.6 L337.6 435.2 L338.1 442.7" fill="none" stroke="#000" stroke-width="1" stroke-linejoin="round"/>
<path d="M333.9 442.2 L338.9 442.2 L341.4 443.9" fill="none" stroke="#000" stroke-width="1" stroke-linejoin="round"/>
<path d="M362.7 416.4 L360.2 430.2 L357.7 444.7" fill="none" stroke="#000" stroke-width="1" stroke-linejoin="round"/>
<path d="M375.2 455.2 L382.7 452.2 L390.3 451.5 L400.3 452.2 L407.8 455.7 L419.1 457.7 L420.3 467.7 L419.1 481.5" fill="none" stroke="#000" stroke-width="1" stroke-linejoin="round"/>
<path d="M434.9 461.5 L435.4 475.3 L434.9 491.6" fill="none" stroke="#000" stroke-width="1" stroke-linejoin="round"/>
<path d="M452.4 454.0 L454.2 455.7 L456.7 454.0" fill="none" stroke="#000" stroke-width="1" stroke-linejoin="round"/>
<path d="M449.1 497.8 L454.2 499.1" fill="none" stroke="#000" stroke-width="1" stroke-linejoin="round"/>
<path d="M395.3 472.8 L399.0 474.8" fill="none" stroke="#000" stroke-width="1" stroke-linejoin="round"/>
<path d="M391.5 552.5 L397.8 552.5 L404.0 555.0 L405.3 565.5" fill="none" stroke="#000" stroke-width="1" stroke-linejoin="round"/>
<path d="M432.9 527.4 L435.4 531.7 L437.9 535.4" fill="none" stroke="#000" stroke-width="1" stroke-linejoin="round"/>
<path d="M409.8 554.2 L411.6 558.0" fill="none" stroke="#000" stroke-width="1" stroke-linejoin="round"/>
<path d="M548.3 491.4 L546.5 500.2 L548.3 510.2 L551.5 520.2 L554.0 531.5" fill="none" stroke="#000" stroke-width="1" stroke-linejoin="round"/>
<path d="M586.6 483.9 L589.1 491.4 L592.9 497.6" fill="none" stroke="#000" stroke-width="1" stroke-linejoin="round"/>
<path d="M597.4 486.4 L597.4 482.6 L599.4 481.4 L600.4 485.1" fill="none" stroke="#000" stroke-width="1" stroke-linejoin="round"/>
<path d="M529.7 531.5 L530.7 527.7 L534.7 526.5" fill="none" stroke="#000" stroke-width="1" stroke-linejoin="round"/>
<text transform="translate(537.2,529.7) rotate(80)" style="font-family:'Liberation Sans',sans-serif;font-style:italic;font-size:9px;fill:#000;stroke:#000;stroke-width:0.2px">8</text>
<path d="M513.9 547.8 L514.7 540.3 L518.9 535.7 L524.7 535.2" fill="none" stroke="#000" stroke-width="1" stroke-linejoin="round"/>
<path d="M517.2 549.0 L518.2 542.3 L521.5 539.0 L524.7 539.0" fill="none" stroke="#000" stroke-width="1" stroke-linejoin="round"/>
<path d="M520.2 549.8 L520.7 544.8 L524.0 542.3" fill="none" stroke="#000" stroke-width="1" stroke-linejoin="round"/>
<path d="M498.9 565.3 L501.4 559.8 L505.7 556.5 L509.7 555.8" fill="none" stroke="#000" stroke-width="1" stroke-linejoin="round"/>
<path d="M502.2 566.6 L504.7 561.6 L508.9 559.8" fill="none" stroke="#000" stroke-width="1" stroke-linejoin="round"/>
<path d="M505.7 567.8 L507.2 564.1" fill="none" stroke="#000" stroke-width="1" stroke-linejoin="round"/>
<path d="M462.1 534.0 L467.6 532.2 L472.1 528.2" fill="none" stroke="#000" stroke-width="1" stroke-linejoin="round"/>
<path d="M470.1 544.8 L477.6 541.5 L483.1 536.5 L485.6 531.5" fill="none" stroke="#000" stroke-width="1" stroke-linejoin="round"/>
<path d="M461.8 519.7 L461.7 520.5 L461.3 521.1 L460.7 521.6 L460.1 521.7 L459.4 521.6 L458.8 521.1 L458.4 520.5 L458.3 519.7 L458.4 518.9 L458.8 518.3 L459.4 517.8 L460.1 517.7 L460.7 517.8 L461.3 518.3 L461.7 518.9 L461.8 519.7" fill="none" stroke="#000" stroke-width="1" stroke-linejoin="round"/>
<path d="M495.6 526.5 L501.4 522.7 L504.7 518.9 L505.7 513.9" fill="none" stroke="#000" stroke-width="1" stroke-linejoin="round"/>
<path d="M500.2 530.7 L505.7 529.7 L509.7 526.5 L510.7 522.7" fill="none" stroke="#000" stroke-width="1" stroke-linejoin="round"/>
<path d="M531.2 567.2 L534.2 575.2 L540.3 577.2 L552.3 574.2 L562.3 570.2" fill="none" stroke="#000" stroke-width="1" stroke-linejoin="round"/>
<path d="M497.1 593.3 L508.2 586.6 L515.2 586.6 L524.2 589.2 L534.2 590.7 L542.3 584.2 L552.3 583.2 L562.3 586.2 L568.3 592.3 L571.3 599.3 L576.3 604.3 L568.3 608.3 L560.3 615.9" fill="none" stroke="#000" stroke-width="1" stroke-linejoin="round"/>
<path d="M562.3 618.3 L576.3 613.3 L588.4 609.3 L598.4 605.3" fill="none" stroke="#000" stroke-width="1" stroke-linejoin="round"/>
<path d="M560.3 622.3 L578.3 618.3 L596.4 613.9" fill="none" stroke="#000" stroke-width="1" stroke-linejoin="round"/>
<path d="M591.4 574.2 L592.8 581.2 L596.4 586.2 L600.0 588.2" fill="none" stroke="#000" stroke-width="1" stroke-linejoin="round"/>
<path d="M573.9 568.6 L576.3 571.2 L577.9 574.2" fill="none" stroke="#000" stroke-width="1" stroke-linejoin="round"/>
<path d="M546.9 549.5 L546.7 550.2 L546.4 550.8 L545.9 551.2 L545.3 551.4 L544.6 551.2 L544.1 550.8 L543.8 550.2 L543.7 549.5 L543.8 548.9 L544.1 548.3 L544.6 547.9 L545.3 547.7 L545.9 547.9 L546.4 548.3 L546.7 548.9 L546.9 549.5" fill="none" stroke="#000" stroke-width="1" stroke-linejoin="round"/>
<text transform="translate(538.2,616.7) rotate(-25)" style="font-family:'Liberation Sans',sans-serif;font-style:italic;font-size:10px;fill:#1a0c00">17</text>
<text transform="translate(467.8,674.1) rotate(42)" style="font-family:'Liberation Sans',sans-serif;font-style:italic;font-size:10.2px;fill:#000;stroke:#000;stroke-width:0.2px">14</text>
<text transform="translate(488.5,676.9) rotate(58)" style="font-family:'Liberation Sans',sans-serif;font-style:italic;font-size:10.2px;fill:#000;stroke:#000;stroke-width:0.2px">15</text>
<text transform="translate(565.0,638.9) rotate(35)" style="font-family:'Liberation Sans',sans-serif;font-style:italic;font-size:10.2px;fill:#000;stroke:#000;stroke-width:0.2px">14</text>
<path d="M482.6 682.4 L487.2 685.2 L488.5 692.6" fill="none" stroke="#000" stroke-width="1" stroke-linejoin="round"/>
<path d="M493.7 665.7 L499.3 663.9 L504.8 661.1" fill="none" stroke="#000" stroke-width="1" stroke-linejoin="round"/>
<path d="M499.3 687.0 L501.5 692.6 L500.2 697.2" fill="none" stroke="#000" stroke-width="1" stroke-linejoin="round"/>
<path d="M512.2 696.3 L514.1 690.7 L519.6 687.0 L524.3 688.0" fill="none" stroke="#000" stroke-width="1" stroke-linejoin="round"/>
<path d="M516.9 662.0 L521.5 665.7 L525.2 667.0" fill="none" stroke="#000" stroke-width="1" stroke-linejoin="round"/>
<path d="M551.1 675.0 L551.1 687.0" fill="none" stroke="#000" stroke-width="1" stroke-linejoin="round"/>
<path d="M530.7 638.0 L531.1 648.1 L529.8 655.6" fill="none" stroke="#000" stroke-width="1" stroke-linejoin="round"/>
<path d="M541.5 655.6 L541.9 651.9 L546.5 651.5 L548.3 653.7" fill="none" stroke="#000" stroke-width="1" stroke-linejoin="round"/>
<path d="M572.4 652.8 L574.3 657.4 L573.3 663.0 L567.8 664.8 L562.2 666.7" fill="none" stroke="#000" stroke-width="1" stroke-linejoin="round"/>
<path d="M586.3 627.8 L586.3 655.6" fill="none" stroke="#000" stroke-width="1" stroke-linejoin="round"/>
<path d="M499.3 714.8 L503.9 713.0 L506.7 711.1" fill="none" stroke="#000" stroke-width="1" stroke-linejoin="round"/>
<path d="M558.5 698.1 L562.2 705.6 L565.9 711.1" fill="none" stroke="#000" stroke-width="1" stroke-linejoin="round"/>
<path d="M454.8 636.1 L458.5 644.4 L463.1 650.9 L469.6 653.7" fill="none" stroke="#000" stroke-width="1" stroke-linejoin="round"/>
<path d="M462.2 665.7 L469.6 660.2" fill="none" stroke="#000" stroke-width="1" stroke-linejoin="round"/>
<text transform="translate(638.2,643.3) rotate(0)" style="font-family:'Liberation Sans',sans-serif;font-style:italic;font-size:10.2px;fill:#000;stroke:#000;stroke-width:0.2px">15</text>
<text transform="translate(694.9,645.3) rotate(-30)" style="font-family:'Liberation Sans',sans-serif;font-style:italic;font-size:10.2px;fill:#000;stroke:#000;stroke-width:0.2px">15</text>
<text transform="translate(695.9,687.5) rotate(0)" style="font-family:'Liberation Sans',sans-serif;font-style:italic;font-size:10px;fill:#000;stroke:#000;stroke-width:0.2px">16</text>
<path d="M654.0 636.6 L660.3 632.8 L666.5 636.6 L674.0 634.0 L680.3 635.3 L684.1 640.3 L681.6 647.8 L686.6 654.1 L690.3 661.6" fill="none" stroke="#000" stroke-width="1" stroke-linejoin="round"/>
<path d="M682.8 622.8 L687.8 629.0 L691.6 635.3 L692.9 640.3" fill="none" stroke="#000" stroke-width="1" stroke-linejoin="round"/>
<path d="M697.9 626.5 L700.4 630.3" fill="none" stroke="#000" stroke-width="1" stroke-linejoin="round"/>
<path d="M646.5 609.0 L647.2 617.7 L643.9 625.3 L640.2 629.0" fill="none" stroke="#000" stroke-width="1" stroke-linejoin="round"/>
<path d="M659.7 604.7 L664.0 607.7 L670.3 608.2" fill="none" stroke="#000" stroke-width="1" stroke-linejoin="round"/>
<path d="M690.3 698.5 L696.6 696.7 L702.9 698.0 L704.1 701.8" fill="none" stroke="#000" stroke-width="1" stroke-linejoin="round"/>
<path d="M699.9 688.5 L705.4 691.7" fill="none" stroke="#000" stroke-width="1" stroke-linejoin="round"/>
<path d="M653.2 671.7 L657.7 664.1 L665.3 659.9 L672.8 661.6 L680.3 663.4" fill="none" stroke="#000" stroke-width="1" stroke-linejoin="round"/>
<path d="M591.3 575.1 L592.5 582.6 L597.6 588.9" fill="none" stroke="#000" stroke-width="1" stroke-linejoin="round"/>
<path d="M585.0 635.3 L586.3 647.8 L585.0 657.9" fill="none" stroke="#000" stroke-width="1" stroke-linejoin="round"/>
<path d="M595.0 659.1 L601.3 651.6 L606.3 650.3 L609.6 656.6" fill="none" stroke="#000" stroke-width="1" stroke-linejoin="round"/>
<path d="M620.1 662.9 L625.1 665.4 L631.4 667.9" fill="none" stroke="#000" stroke-width="1" stroke-linejoin="round"/>
<text transform="translate(628.9,600.7) rotate(70)" style="font-family:'Liberation Sans',sans-serif;font-style:italic;font-size:8px;fill:#000;stroke:#000;stroke-width:0.2px">14</text>
<path d="M625.1 607.2 L628.9 604.7 L632.7 607.7 L630.2 610.7" fill="none" stroke="#000" stroke-width="1" stroke-linejoin="round"/>
<path d="M281.3 613.9 L295.1 611.4 L310.1 608.9" fill="none" stroke="#000" stroke-width="1" stroke-linejoin="round"/>
<path d="M285.0 618.2 L297.6 616.4 L310.1 617.2" fill="none" stroke="#000" stroke-width="1" stroke-linejoin="round"/>
<path d="M280.0 635.2 L292.6 636.5 L303.8 634.7" fill="none" stroke="#000" stroke-width="1" stroke-linejoin="round"/>
<text transform="translate(308.1,633.2) rotate(-50)" style="font-family:'Liberation Sans',sans-serif;font-style:italic;font-size:10.2px;fill:#000;stroke:#000;stroke-width:0.2px">13</text>
<path d="M283.8 676.6 L292.6 670.3 L302.6 660.3 L320.1 650.3 L345.2 642.8" fill="none" stroke="#000" stroke-width="1" stroke-linejoin="round"/>
<path d="M288.8 719.2 L307.6 707.9 L330.2 698.4" fill="none" stroke="#000" stroke-width="1" stroke-linejoin="round"/>
<path d="M350.7 720.5 L350.2 710.4 L352.7 706.7 L361.5 705.4" fill="none" stroke="#000" stroke-width="1" stroke-linejoin="round"/>
<text transform="translate(370.3,721.0) rotate(-20)" style="font-family:'Liberation Sans',sans-serif;font-style:italic;font-size:10.2px;fill:#000;stroke:#000;stroke-width:0.2px">15</text>
<path d="M411.6 694.9 L413.4 700.4 L420.4 700.9 L429.1 697.9" fill="none" stroke="#000" stroke-width="1" stroke-linejoin="round"/>
<text transform="translate(407.8,722.0) rotate(0)" style="font-family:'Liberation Sans',sans-serif;font-style:italic;font-size:10px;fill:#000;stroke:#000;stroke-width:0.2px">- 15</text>
<path d="M498.8 71.0 L505.1 68.5 L510.1 63.5" fill="none" stroke="#000" stroke-width="1" stroke-linejoin="round"/>
<path d="M500.1 81.1 L506.3 77.3 L512.1 71.5" fill="none" stroke="#000" stroke-width="1" stroke-linejoin="round"/>
<path d="M510.1 108.1 L520.1 104.1 L530.1 97.4 L537.6 88.6 L541.4 84.1" fill="none" stroke="#000" stroke-width="1" stroke-linejoin="round"/>
<path d="M527.6 119.2 L528.1 112.4 L533.9 106.1 L542.7 101.1 L545.7 93.6 L547.2 90.6" fill="none" stroke="#000" stroke-width="1" stroke-linejoin="round"/>
<path d="M512.6 129.2 L520.1 129.9" fill="none" stroke="#000" stroke-width="1" stroke-linejoin="round"/>
<path d="M539.6 138.7 L533.9 142.5 L531.4 146.2 L532.6 155.0 L535.6 163.8" fill="none" stroke="#000" stroke-width="1" stroke-linejoin="round"/>
<path d="M561.5 134.9 L566.5 133.2 L570.7 138.7 L574.7 144.2" fill="none" stroke="#000" stroke-width="1" stroke-linejoin="round"/>
<path d="M576.5 81.1 L580.3 87.3 L585.3 91.1 L597.8 94.1 L609.1 96.1 L614.1 101.1 L616.6 106.1 L615.8 116.2 L614.8 119.9" fill="none" stroke="#000" stroke-width="1" stroke-linejoin="round"/>
<path d="M576.5 63.0 L592.8 64.8 L610.3 65.5 L612.0 65.2 L621.1 65.3" fill="none" stroke="#000" stroke-width="1" stroke-linejoin="round"/>
<text transform="translate(625.6,69.8) rotate(0)" style="font-family:'Liberation Sans',sans-serif;font-style:italic;font-size:11.5px;fill:#000;stroke:#000;stroke-width:0.2px">15</text>
<path d="M641.4 65.3 L648.1 66.8 L654.2 67.3 L657.9 69.5 L663.2 74.1 L667.7 78.6 L672.2 82.3 L678.2 86.8 L682.0 88.3 L687.3 87.9 L693.3 84.6 L702.3 80.1 L711.3 74.8 L718.9 71.0 L724.9 68.8" fill="none" stroke="#000" stroke-width="1" stroke-linejoin="round"/>
<path d="M585.3 71.0 L600.3 73.0 L612.0 71.8 L622.6 72.2 L634.6 72.9 L640.6 74.8 L645.1 78.6 L650.4 83.8 L655.7 88.3" fill="none" stroke="#000" stroke-width="1" stroke-linejoin="round"/>
<text transform="translate(657.9,102.9) rotate(-52)" style="font-family:'Liberation Sans',sans-serif;font-style:italic;font-size:11.5px;fill:#000;stroke:#000;stroke-width:0.2px">16</text>
<path d="M651.2 98.1 L645.1 99.6 L641.4 102.6 L639.9 107.2" fill="none" stroke="#000" stroke-width="1" stroke-linejoin="round"/>
<path d="M639.4 118.4 L642.1 124.5 L644.4 129.4" fill="none" stroke="#000" stroke-width="1" stroke-linejoin="round"/>
<path d="M655.7 61.3 L663.2 64.3 L670.7 68.8 L678.2 72.6 L682.0 73.3 L690.3 72.9 L699.3 71.0" fill="none" stroke="#000" stroke-width="1" stroke-linejoin="round"/>
<text transform="translate(685.8,71.0) rotate(8)" style="font-family:'Liberation Sans',sans-serif;font-style:italic;font-size:11.5px;fill:#000;stroke:#000;stroke-width:0.2px">13</text>
<path d="M703.1 66.5 L706.1 66.2" fill="none" stroke="#000" stroke-width="1" stroke-linejoin="round"/>
<text transform="translate(709.5,72.9) rotate(-18)" style="font-family:'Liberation Sans',sans-serif;font-style:italic;font-size:11.5px;fill:#000;stroke:#000;stroke-width:0.2px">14</text>
<path d="M620.3 124.5 L624.1 124.0 L625.9 128.2 L626.3 134.2" fill="none" stroke="#000" stroke-width="1" stroke-linejoin="round"/>
<path d="M597.8 135.7 L599.8 133.7 L602.8 133.2" fill="none" stroke="#000" stroke-width="1" stroke-linejoin="round"/>
<path d="M605.3 134.2 L606.6 137.5 L608.3 135.7" fill="none" stroke="#000" stroke-width="1" stroke-linejoin="round"/>
<text transform="translate(581.1,683.1) rotate(-62)" style="font-family:'Liberation Sans',sans-serif;font-style:italic;font-size:10.2px;fill:#000;stroke:#000;stroke-width:0.2px">5</text>
<path d="M566.9 698.0 L573.3 697.0 L582.6 694.3 L591.9 691.5 L598.3 687.8" fill="none" stroke="#000" stroke-width="1" stroke-linejoin="round"/>
<path d="M567.8 702.6 L577.0 703.5 L586.3 701.7 L593.7 698.9 L599.3 695.2" fill="none" stroke="#000" stroke-width="1" stroke-linejoin="round"/>
<path d="M570.6 708.1 L578.9 707.2 L584.4 704.4" fill="none" stroke="#000" stroke-width="1" stroke-linejoin="round"/>
<path d="M590.0 710.0 L591.9 704.4 L597.4 700.7 L599.3 702.6 L595.6 708.1 L590.9 710.9 L590.0 710.0" fill="none" stroke="#000" stroke-width="1" stroke-linejoin="round"/>
<text transform="translate(576.1,713.7) rotate(32)" style="font-family:'Liberation Sans',sans-serif;font-style:italic;font-size:10.2px;fill:#000;stroke:#000;stroke-width:0.2px">15</text>
<text transform="translate(608.1,701.7) rotate(-52)" style="font-family:'Liberation Sans',sans-serif;font-style:italic;font-size:10.2px;fill:#000;stroke:#000;stroke-width:0.2px">15</text>
<path d="M595.6 659.1 L599.3 655.4 L603.9 649.8 L607.6 651.7 L609.4 656.3" fill="none" stroke="#000" stroke-width="1" stroke-linejoin="round"/>
<path d="M574.3 652.6 L575.2 658.1 L573.3 662.8 L567.8 664.6 L564.1 665.6" fill="none" stroke="#000" stroke-width="1" stroke-linejoin="round"/>
<path d="M541.9 656.3 L542.2 652.6 L545.6 651.7 L547.4 654.4" fill="none" stroke="#000" stroke-width="1" stroke-linejoin="round"/>
<path d="M621.5 662.8 L626.1 664.6 L629.8 667.4" fill="none" stroke="#000" stroke-width="1" stroke-linejoin="round"/>
<path d="M554.8 684.1 L557.6 681.3 L560.4 683.1 L558.5 687.8" fill="none" stroke="#000" stroke-width="1" stroke-linejoin="round"/>
<path d="M551.1 677.6 L551.5 689.6" fill="none" stroke="#000" stroke-width="1" stroke-linejoin="round"/>
<path d="M604.8 680.4 L608.9 673.9" fill="none" stroke="#000" stroke-width="1" stroke-linejoin="round"/>
<path d="M625.2 685.0 L630.7 687.8 L635.4 689.6" fill="none" stroke="#000" stroke-width="1" stroke-linejoin="round"/>
<path d="M624.3 693.3 L628.9 696.1" fill="none" stroke="#000" stroke-width="1" stroke-linejoin="round"/>
<path d="M601.1 693.3 L604.8 697.0 L603.9 691.5" fill="none" stroke="#000" stroke-width="1" stroke-linejoin="round"/>
<path d="M608.5 712.2 L610.4 715.6 L612.6 713.7" fill="none" stroke="#000" stroke-width="1" stroke-linejoin="round"/>
<text transform="translate(638.1,679.4) rotate(-60)" style="font-family:'Liberation Sans',sans-serif;font-style:italic;font-size:9px;fill:#000;stroke:#000;stroke-width:0.2px">3</text>
<text transform="translate(414.6,527.4) rotate(95)" style="font-family:'Liberation Sans',sans-serif;font-style:italic;font-size:9px;fill:#000;stroke:#000;stroke-width:0.2px">2</text>
<path d="M491.5 57 L492.0 61.0 L492.8 68.5 L495.1 74.8 L496.3 81.1 L495.1 86.1 L494.8 92.3 L497.6 93.6 L500.1 99.9 L503.9 106.1 L507.0 114.9 L507.4 118.4 L505.1 118.4 L502.6 116.2 L500.1 113.0 L497.6 107.4 L495.1 105.5 L490.7 106.8 L487.6 109.9 L483.8 108.6 L480.7 106.8 L479.4 104.9 L478.8 99.9 L476.9 99.9 L477.3 106.1 L478.2 111.1 L477.5 118.7 L477.5 127.4 L480.1 132.4 L481.3 134.9 L475.0 138.7 L471.3 141.2 L465.0 143.7 L462.5 150.0 L460.0 151.2 L460.2 150.0 L457.1 155.0 L455.6 161.3 L458.1 167.5 L462.2 172.5 L467.7 176.3 L470.7 177.6 L469.7 181.3 L467.7 186.3 L463.9 188.8 L458.9 188.3 L455.1 190.1 L453.1 196.4 L450.1 196.4 L448.9 195.1 L445.1 196.4 L443.9 200.1 L440.1 200.9 L437.6 202.6 L431.3 203.9 L430.1 210.1 L431.3 215.1 L437.6 216.4 L438.8 213.9 L445.1 215.1 L448.9 217.7 L456.4 220.2 L458.1 222.7 L455.6 232.7 L455.8 233.1 L451.4 235.3 L448.6 235.6 L448.2 238.1 L443.9 239.4 L442.0 242.5 L437.6 245.0 L435.3 246.9 L437.0 250.7 L440.1 254.4 L443.9 256.9 L445.7 260.7 L448.2 263.8 L448.9 265.7 L453.9 262.6 L457.9 262.8 L459.9 266.3 L461.4 270.1 L461.7 275.1 L462.7 278.2 L460.2 280.1 L458.9 283.9 L456.4 282.0 L453.3 281.4 L452.0 275.7 L450.8 275.1 L443.9 275.7 L442.0 273.9 L439.5 273.2 L443.2 275.7 L445.1 279.5 L444.5 282.6 L446.6 285.1 L446.4 290.8 L443.9 292.7 L443.6 295.8 L447.0 296.4 L448.2 298.3 L447.6 302.7 L443.9 304.6 L438.8 303.9 L434.5 303.9 L433.6 305.8 L436.3 310.2 L437.6 316.5 L437.0 322.1 L438.8 324.6 L443.9 322.1 L448.2 318.3 L450.1 319.0 L451.4 322.7 L456.4 324.6 L458.9 322.7 L459.9 325.2 L458.3 328.8 L448.9 329.4 L446.4 331.9 L445.8 335.1 L447.6 337.8 L452.0 339.4 L454.5 343.2 L457.0 348.8 L458.9 355.1 L459.5 360.8 L461.4 364.5 L458.3 368.3 L456.4 372.7 L455.2 378.3 L453.3 375.2 L451.4 370.8 L448.3 370.2 L445.1 367.0 L441.4 363.3 L438.2 362.0 L435.7 363.3 L433.2 362.0 L432.6 358.9 L435.1 356.4 L437.0 353.9 L435.7 348.8 L433.9 347.0 L427.6 348.8 L423.2 348.8 L420.3 346.3 L420.7 343.2 L423.8 340.1 L431.4 336.9 L427.6 333.8 L423.8 332.6 L422.0 329.4 L421.3 326.3 L415.1 325.0 L413.8 323.8 L412.6 325.7 L410.1 329.4 L406.9 331.1 L403.8 329.4 L401.3 323.8 L398.8 318.8 L393.8 317.3 L390.0 316.9 L388.4 317.6 L378.3 318.0 L366.3 320.1 L354.3 323.7 L344.3 328.1 L336.2 333.1 L332.6 337.1 L331.2 341.1 L326.2 340.1 L321.8 341.1 L320.2 334.1 L317.2 332.1 L313.2 333.1 L309.2 335.1 L307.2 331.1 L304.6 330.5 L300.2 335.1 L296.1 339.1 L294.1 344.1 L288.1 348.1 L287.7 351.1 L291.7 354.1 L285.1 358.1 L289.1 360.2 L289.7 364.2 L294.1 362.2 L299.1 359.1 L300.6 362.2 L299.1 368.2 L296.1 374.2 L293.1 377.8 L287.1 378.2 L281.1 381.2 L279.1 387.2 L276.1 393.2 L272.1 398.2 L268.1 406.3 L264.1 414.3 L260.1 420.3 L257.0 430.3 L255.0 438.3 L255.1 440 L251.7 450 L250.1 460 L249 470.1 L247.6 480.1 L245.6 490.1 L244 499.1 L243.6 510.2 L245 520.2 L246.4 530.2 L247.6 540.3 L249 549.3 L252.1 556.3 L255.1 563.3 L259.1 569.3 L264.1 574.3 L269.1 577.9 L271.1 579.3 L271.3 589.4 L272.9 600.7 L275.7 606.3 L278.5 613.9 L279.5 625.2 L280.4 636.5 L282.3 651.5 L283.6 664.7 L284.2 677.9 L283.2 685.4 L285.1 696.7 L287 708 L288.9 720.2 L289 724 L99 724 L99 57Z" fill="#6b6b6b" stroke="#000" stroke-width="1" stroke-linejoin="round" shape-rendering="crispEdges"/>
<path d="M505.1 57 L531.4 57 L532.1 63.5 L525.2 63.5 L522.0 67.9 L519.5 68.5 L518.9 72.3 L522.7 74.8 L525.2 79.8 L522.7 82.9 L518.3 84.2 L515.1 79.8 L513.9 74.8 L511.4 71.0 L507.6 67.9 L505.4 64.8Z" fill="#6b6b6b" stroke="#000" stroke-width="1" stroke-linejoin="round"/>
<path d="M485.7 116.2 L489.4 113.0 L492.8 113.6 L493.8 117.4 L491.3 119.9 L490.7 123.7 L492.0 126.8 L495.1 128.1 L495.1 130.6 L491.3 130.9 L488.2 127.4 L486.9 121.2Z" fill="#6b6b6b" stroke="#000" stroke-width="1" stroke-linejoin="round"/>
<path d="M455.1 296.2 L456.4 298.3 L460.4 304.2 L455.8 304.9 L454.8 300.2Z" fill="#6b6b6b" stroke="#000" stroke-width="1" stroke-linejoin="round"/>
<path d="M416.9 363.9 L419.1 363.3 L420.1 367.6 L420.7 371.4 L417.6 374.5 L416.3 372.7 L416.1 366.4Z" fill="#6b6b6b" stroke="#000" stroke-width="1" stroke-linejoin="round"/>
<path d="M434.5 377.7 L437.0 376.2 L440.1 380.2 L444.5 385.2 L444.1 390.2 L440.1 387.7 L438.2 383.3 L435.1 380.8Z" fill="#6b6b6b" stroke="#000" stroke-width="1" stroke-linejoin="round"/>
<path d="M466.7 367.6 L468.3 363.3 L471.5 362.0 L475.2 365.8 L476.7 370.2 L475.8 375.2 L472.7 376.4 L468.9 373.9Z" fill="#6b6b6b" stroke="#000" stroke-width="1" stroke-linejoin="round"/>
<path d="M479.6 312.8 L481.5 312.8 L481.5 315.0 L479.6 315.0Z" fill="#6b6b6b" stroke="#000" stroke-width="1" stroke-linejoin="round"/>
<path d="M482.5 326.9 L484.2 326.9 L484.6 329.4 L482.5 329.4Z" fill="#6b6b6b" stroke="#000" stroke-width="1" stroke-linejoin="round"/>
<path d="M324.2 348.1 L328.2 344.5 L331.2 350.1 L335.2 355.1 L330.6 358.1 L327.2 353.1Z" fill="#6b6b6b" stroke="#000" stroke-width="1" stroke-linejoin="round"/>
<rect x="274" y="58" width="1" height="665" fill="#000"/>
<rect x="448" y="58" width="1" height="665" fill="#000"/>
<rect x="621" y="58" width="1" height="665" fill="#000"/>
<rect x="100" y="280" width="627" height="1" fill="#000"/>
<rect x="100" y="500" width="627" height="1" fill="#000"/>
</g>
<path d="M98 56H729V725H98Z M102 60.7V721H725V60.7Z" fill="#000" fill-rule="evenodd"/>
<rect x="102" y="57" width="85" height="2" fill="#fff"/>
<rect x="102" y="722" width="85" height="2" fill="#fff"/>
<rect x="274" y="57" width="87" height="2" fill="#fff"/>
<rect x="274" y="722" width="87" height="2" fill="#fff"/>
<rect x="448" y="57" width="86.5" height="2" fill="#fff"/>
<rect x="448" y="722" width="86.5" height="2" fill="#fff"/>
<rect x="621.5" y="57" width="86.5" height="2" fill="#fff"/>
<rect x="621.5" y="722" width="86.5" height="2" fill="#fff"/>
<rect x="99" y="170" width="2" height="110" fill="#fff"/>
<rect x="726" y="170" width="2" height="110" fill="#fff"/>
<rect x="99" y="390" width="2" height="110" fill="#fff"/>
<rect x="726" y="390" width="2" height="110" fill="#fff"/>
<rect x="99" y="610" width="2" height="110" fill="#fff"/>
<rect x="726" y="610" width="2" height="110" fill="#fff"/>
<rect x="99" y="57" width="2" height="2" fill="#fff"/>
<rect x="726" y="57" width="2" height="2" fill="#fff"/>
<rect x="99" y="722" width="2" height="2" fill="#fff"/>
<rect x="726" y="722" width="2" height="2" fill="#fff"/>
<clipPath id="cbclip"><path d="M750.5 60.5L758.8 51.5L767.5 60.5V720.5L758.8 730L750.5 720.5Z"/></clipPath>
<g clip-path="url(#cbclip)">
<rect x="750" y="50" width="18" height="11" fill="#fcc48e"/>
<rect x="750" y="60" width="18" height="8" fill="#fdb889"/>
<rect x="750" y="67" width="18" height="7" fill="#fbab81"/>
<rect x="750" y="73" width="18" height="8" fill="#f99875"/>
<rect x="750" y="80" width="18" height="7" fill="#f4846a"/>
<rect x="750" y="86" width="18" height="8" fill="#ef6e60"/>
<rect x="750" y="93" width="18" height="8" fill="#e95658"/>
<rect x="750" y="100" width="18" height="7" fill="#e43f4d"/>
<rect x="750" y="106" width="18" height="8" fill="#de2b42"/>
<rect x="750" y="113" width="18" height="7" fill="#da1f37"/>
<rect x="750" y="119" width="18" height="8" fill="#d8152c"/>
<rect x="750" y="126" width="18" height="8" fill="#d80e24"/>
<rect x="750" y="133" width="18" height="7" fill="#d9081b"/>
<rect x="750" y="139" width="18" height="8" fill="#de0415"/>
<rect x="750" y="146" width="18" height="7" fill="#e3000f"/>
<rect x="750" y="152" width="18" height="8" fill="#ee040b"/>
<rect x="750" y="159" width="18" height="8" fill="#fa0908"/>
<rect x="750" y="166" width="18" height="7" fill="#f91608"/>
<rect x="750" y="172" width="18" height="8" fill="#f82308"/>
<rect x="750" y="179" width="18" height="7" fill="#f53108"/>
<rect x="750" y="185" width="18" height="8" fill="#ef3f08"/>
<rect x="750" y="192" width="18" height="8" fill="#e94a08"/>
<rect x="750" y="199" width="18" height="7" fill="#e05108"/>
<rect x="750" y="205" width="18" height="8" fill="#d85808"/>
<rect x="750" y="212" width="18" height="7" fill="#d15f08"/>
<rect x="750" y="218" width="18" height="8" fill="#cf6708"/>
<rect x="750" y="225" width="18" height="8" fill="#d97108"/>
<rect x="750" y="232" width="18" height="7" fill="#e37b08"/>
<rect x="750" y="238" width="18" height="8" fill="#eb8308"/>
<rect x="750" y="245" width="18" height="7" fill="#f48c08"/>
<rect x="750" y="251" width="18" height="8" fill="#f7930b"/>
<rect x="750" y="258" width="18" height="8" fill="#fa9b0e"/>
<rect x="750" y="265" width="18" height="7" fill="#fca111"/>
<rect x="750" y="271" width="18" height="8" fill="#fca414"/>
<rect x="750" y="278" width="18" height="7" fill="#fca816"/>
<rect x="750" y="284" width="18" height="8" fill="#fcae1a"/>
<rect x="750" y="291" width="18" height="8" fill="#fbb721"/>
<rect x="750" y="298" width="18" height="7" fill="#f9c228"/>
<rect x="750" y="304" width="18" height="8" fill="#f5ce32"/>
<rect x="750" y="311" width="18" height="7" fill="#f0d838"/>
<rect x="750" y="317" width="18" height="8" fill="#e4e23e"/>
<rect x="750" y="324" width="18" height="8" fill="#d5eb48"/>
<rect x="750" y="331" width="18" height="7" fill="#c4ef52"/>
<rect x="750" y="337" width="18" height="8" fill="#b7ed5a"/>
<rect x="750" y="344" width="18" height="7" fill="#aae860"/>
<rect x="750" y="350" width="18" height="8" fill="#9de265"/>
<rect x="750" y="357" width="18" height="8" fill="#8fda67"/>
<rect x="750" y="364" width="18" height="7" fill="#81cf65"/>
<rect x="750" y="370" width="18" height="8" fill="#73c361"/>
<rect x="750" y="377" width="18" height="7" fill="#68bd5b"/>
<rect x="750" y="383" width="18" height="8" fill="#5dba54"/>
<rect x="750" y="390" width="18" height="8" fill="#54ba4c"/>
<rect x="750" y="397" width="18" height="7" fill="#4dbd45"/>
<rect x="750" y="403" width="18" height="8" fill="#46c13e"/>
<rect x="750" y="410" width="18" height="7" fill="#3bc637"/>
<rect x="750" y="416" width="18" height="8" fill="#30cc30"/>
<rect x="750" y="423" width="18" height="8" fill="#26d030"/>
<rect x="750" y="430" width="18" height="7" fill="#1bd430"/>
<rect x="750" y="436" width="18" height="8" fill="#11d830"/>
<rect x="750" y="443" width="18" height="7" fill="#0ddb33"/>
<rect x="750" y="449" width="18" height="8" fill="#09df37"/>
<rect x="750" y="456" width="18" height="8" fill="#0adb3d"/>
<rect x="750" y="463" width="18" height="7" fill="#0ed444"/>
<rect x="750" y="469" width="18" height="8" fill="#14cc4c"/>
<rect x="750" y="476" width="18" height="7" fill="#1fc157"/>
<rect x="750" y="482" width="18" height="8" fill="#29b962"/>
<rect x="750" y="489" width="18" height="8" fill="#34c073"/>
<rect x="750" y="496" width="18" height="7" fill="#3ec785"/>
<rect x="750" y="502" width="18" height="8" fill="#47cf93"/>
<rect x="750" y="509" width="18" height="7" fill="#50d8a0"/>
<rect x="750" y="515" width="18" height="8" fill="#58e0b5"/>
<rect x="750" y="522" width="18" height="8" fill="#60e8c8"/>
<rect x="750" y="529" width="18" height="7" fill="#64e8d3"/>
<rect x="750" y="535" width="18" height="8" fill="#67e8de"/>
<rect x="750" y="542" width="18" height="7" fill="#60dce4"/>
<rect x="750" y="548" width="18" height="8" fill="#54cbe8"/>
<rect x="750" y="555" width="18" height="8" fill="#44b5e8"/>
<rect x="750" y="562" width="18" height="7" fill="#38a3e5"/>
<rect x="750" y="568" width="18" height="8" fill="#2e91e2"/>
<rect x="750" y="575" width="18" height="7" fill="#2581e0"/>
<rect x="750" y="581" width="18" height="8" fill="#1e73e0"/>
<rect x="750" y="588" width="18" height="8" fill="#1965e1"/>
<rect x="750" y="595" width="18" height="7" fill="#1e55e6"/>
<rect x="750" y="601" width="18" height="8" fill="#264aeb"/>
<rect x="750" y="608" width="18" height="7" fill="#2f41ef"/>
<rect x="750" y="614" width="18" height="8" fill="#3e45eb"/>
<rect x="750" y="621" width="18" height="8" fill="#4f4fe4"/>
<rect x="750" y="628" width="18" height="7" fill="#6464da"/>
<rect x="750" y="634" width="18" height="8" fill="#7e7ad4"/>
<rect x="750" y="641" width="18" height="7" fill="#978bce"/>
<rect x="750" y="647" width="18" height="8" fill="#ac96c9"/>
<rect x="750" y="654" width="18" height="8" fill="#bb8dbd"/>
<rect x="750" y="661" width="18" height="7" fill="#c478b8"/>
<rect x="750" y="667" width="18" height="8" fill="#cb62bc"/>
<rect x="750" y="674" width="18" height="7" fill="#d352c7"/>
<rect x="750" y="680" width="18" height="8" fill="#d850cc"/>
<rect x="750" y="687" width="18" height="8" fill="#dc51d0"/>
<rect x="750" y="694" width="18" height="7" fill="#df66d6"/>
<rect x="750" y="700" width="18" height="8" fill="#e37edb"/>
<rect x="750" y="707" width="18" height="7" fill="#e898e0"/>
<rect x="750" y="713" width="18" height="8" fill="#edb0ea"/>
<rect x="750" y="720" width="18" height="11" fill="#f2c8f2"/>
</g>
<path d="M750.5 60.5L758.8 51.5L767.5 60.5V720.5L758.8 730L750.5 720.5Z" fill="none" stroke="#000" stroke-width="1"/>
<text transform="translate(773,66) scale(0.92,1)" style="font-family:'Liberation Sans',sans-serif;font-style:italic;font-size:16.4px;fill:#000;stroke:#000;stroke-width:0.35px">25</text>
<text transform="translate(773,231) scale(0.92,1)" style="font-family:'Liberation Sans',sans-serif;font-style:italic;font-size:16.4px;fill:#000;stroke:#000;stroke-width:0.35px">20</text>
<text transform="translate(773,396) scale(0.92,1)" style="font-family:'Liberation Sans',sans-serif;font-style:italic;font-size:16.4px;fill:#000;stroke:#000;stroke-width:0.35px">15</text>
<text transform="translate(773,561) scale(0.92,1)" style="font-family:'Liberation Sans',sans-serif;font-style:italic;font-size:16.4px;fill:#000;stroke:#000;stroke-width:0.35px">10</text>
<text transform="translate(773,726) scale(0.92,1)" style="font-family:'Liberation Sans',sans-serif;font-style:italic;font-size:16.4px;fill:#000;stroke:#000;stroke-width:0.35px">5</text>
<text transform="translate(91,65.8) scale(0.96,1)" text-anchor="end" style="font-family:'Liberation Sans',sans-serif;font-style:italic;font-size:16.4px;fill:#000;stroke:#000;stroke-width:0.35px">39°N</text>
<text transform="translate(91,285.8) scale(0.96,1)" text-anchor="end" style="font-family:'Liberation Sans',sans-serif;font-style:italic;font-size:16.4px;fill:#000;stroke:#000;stroke-width:0.35px">38.5°N</text>
<text transform="translate(91,505.8) scale(0.96,1)" text-anchor="end" style="font-family:'Liberation Sans',sans-serif;font-style:italic;font-size:16.4px;fill:#000;stroke:#000;stroke-width:0.35px">38°N</text>
<text transform="translate(91,725.8) scale(0.96,1)" text-anchor="end" style="font-family:'Liberation Sans',sans-serif;font-style:italic;font-size:16.4px;fill:#000;stroke:#000;stroke-width:0.35px">37.5°N</text>
<text transform="translate(101.2,745) scale(0.96,1)" text-anchor="middle" style="font-family:'Liberation Sans',sans-serif;font-style:italic;font-size:16.4px;fill:#000;stroke:#000;stroke-width:0.35px">140.5°E</text>
<text transform="translate(274.2,745) scale(0.96,1)" text-anchor="middle" style="font-family:'Liberation Sans',sans-serif;font-style:italic;font-size:16.4px;fill:#000;stroke:#000;stroke-width:0.35px">141°E</text>
<text transform="translate(448.2,745) scale(0.96,1)" text-anchor="middle" style="font-family:'Liberation Sans',sans-serif;font-style:italic;font-size:16.4px;fill:#000;stroke:#000;stroke-width:0.35px">141.5°E</text>
<text transform="translate(622.2,745) scale(0.96,1)" text-anchor="middle" style="font-family:'Liberation Sans',sans-serif;font-style:italic;font-size:16.4px;fill:#000;stroke:#000;stroke-width:0.35px">142°E</text>
<text transform="translate(744.3,719) rotate(-90)" style="font-family:'Liberation Sans',sans-serif;font-style:italic;font-weight:bold;font-size:12.4px;fill:#000">Ocean Data View</text>
</svg>
</body></html>
